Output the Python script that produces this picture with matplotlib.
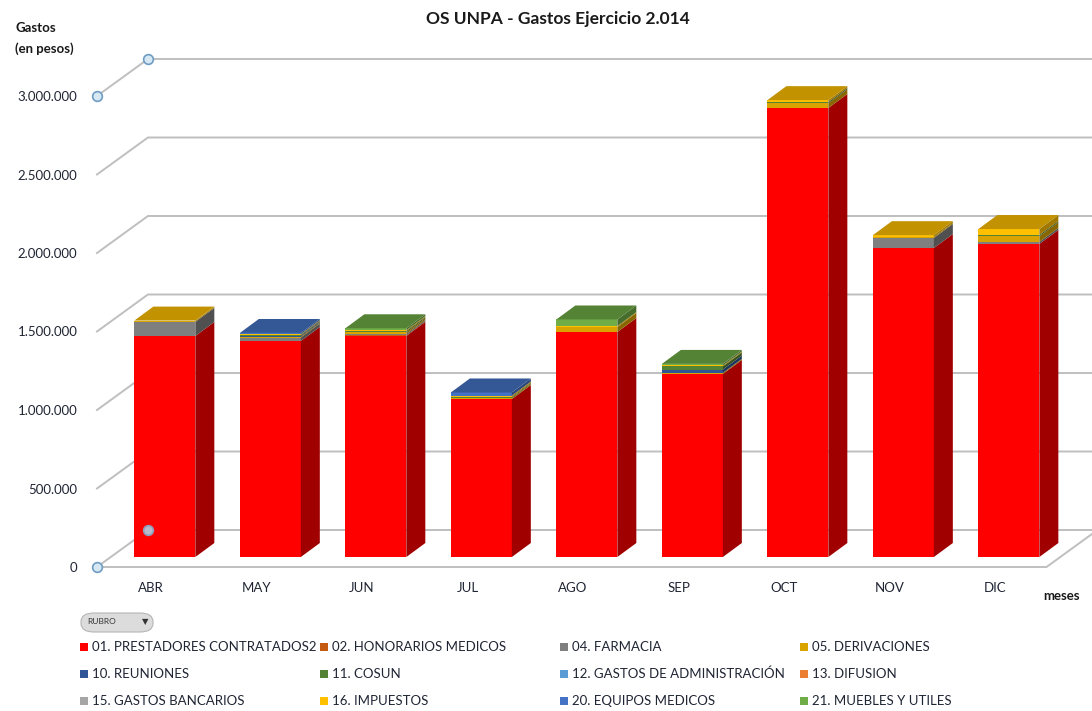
import numpy as np
import matplotlib
matplotlib.use('Agg')
import matplotlib.pyplot as plt
from matplotlib.patches import Polygon, Rectangle, FancyBboxPatch
from matplotlib.colors import to_rgb

plt.rcParams['font.family'] = ['Lato', 'DejaVu Sans']

''' Datos: gastos por mes (en pesos) y rubro '''
meses = ['ABR', 'MAY', 'JUN', 'JUL', 'AGO', 'SEP', 'OCT', 'NOV', 'DIC']

rubros = ['01. PRESTADORES CONTRATADOS2', '02. HONORARIOS MEDICOS', '04. FARMACIA',
          '05. DERIVACIONES', '10. REUNIONES', '11. COSUN',
          '12. GASTOS DE ADMINISTRACIÓN', '13. DIFUSION', '15. GASTOS BANCARIOS',
          '16. IMPUESTOS', '20. EQUIPOS MEDICOS', '21. MUEBLES Y UTILES']
colores = ['#FF0000', '#C55A11', '#7F7F7F', '#D9A300', '#2F5597', '#548235',
           '#5B9BD5', '#ED7D31', '#A5A5A5', '#FFC000', '#4472C4', '#70AD47']

prestadores  = [1408000, 1376000, 1408000, 1006000, 1433000, 1166000, 2860000, 1968000, 1994000]
honorarios   = [0, 0, 5000, 0, 0, 0, 0, 0, 0]
farmacia     = [89000, 22000, 8000, 0, 0, 0, 0, 64000, 13000]
derivaciones = [6000, 6000, 10000, 8000, 32000, 7000, 30000, 6000, 36000]
reuniones    = [0, 6000, 0, 0, 0, 21000, 0, 0, 0]
cosun        = [0, 5000, 8000, 6000, 0, 20000, 8000, 0, 8000]
gastos_adm   = [0, 0, 0, 0, 0, 0, 0, 0, 0]
difusion     = [0, 0, 0, 0, 0, 0, 0, 0, 0]
gastos_banc  = [0, 0, 0, 0, 0, 0, 0, 0, 0]
impuestos    = [3000, 4000, 6000, 8000, 6000, 6000, 12000, 12000, 38000]
equipos      = [0, 8000, 0, 20000, 0, 0, 0, 0, 0]
muebles      = [0, 0, 12000, 0, 42000, 10000, 0, 0, 0]

series = [prestadores, honorarios, farmacia, derivaciones, reuniones, cosun,
          gastos_adm, difusion, gastos_banc, impuestos, equipos, muebles]

yticks = [0, 500000, 1000000, 1500000, 2000000, 2500000, 3000000]

''' parametros del falso 3D (en unidades de datos) '''
DX, DY = 0.483, 235700     # profundidad de paredes
FX, FY = 0.131, 63700      # desplazamiento de la cara frontal de las barras
BX, BY = 0.18, 89000       # profundidad de las barras
W = 0.578
XL, XR = -0.512, 8.488     # borde izq / der del piso
GRID = '#BFBFBF'


def shade(col, f):
    return tuple(c * f for c in to_rgb(col))


W_PX, H_PX = 1092, 711
fig = plt.figure(figsize=(W_PX / 100, H_PX / 100), dpi=100)
ax = fig.add_axes([97 / W_PX, 144 / H_PX, 995 / W_PX, 471 / H_PX])
ax.set_xlim(XL, 8.919)
ax.set_ylim(0, 3000000)
for s in ax.spines.values():
    s.set_visible(False)

# paredes: lineas de grilla
for v in yticks:
    ax.plot([XL, XL + DX, 9.5], [v, v + DY, v + DY], color=GRID, lw=1.4,
            clip_on=False, zorder=1)
ax.plot([XL, XR, XR + DX], [0, 0, DY], color=GRID, lw=1.4, clip_on=False, zorder=1)

# barras apiladas
data = np.array(series, dtype=float)
tot = data.sum(axis=0)
for i in range(len(meses)):
    base = 0.0
    top_col = colores[0]
    xl = i + FX - W / 2
    xr = i + FX + W / 2
    for k in range(len(series)):
        h = data[k, i]
        if h <= 0:
            continue
        ax.bar(i + FX, h, bottom=FY + base, width=W, color=colores[k], lw=0,
               zorder=3, clip_on=False)
        side = [(xr, FY + base), (xr + BX, FY + base + BY),
                (xr + BX, FY + base + h + BY), (xr, FY + base + h)]
        ax.add_patch(Polygon(side, closed=True, facecolor=shade(colores[k], 0.63),
                             lw=0, zorder=3, clip_on=False))
        base += h
        top_col = colores[k]
    T = FY + tot[i]
    tapa = [(xl, T), (xr, T), (xr + BX, T + BY), (xl + BX, T + BY)]
    ax.add_patch(Polygon(tapa, closed=True, facecolor=shade(top_col, 0.76),
                         lw=0, zorder=3, clip_on=False))

# manijas de seleccion
ax.plot([XL, XL, XL + DX], [0, 3000000, 3000000 + DY], 'o', ms=7,
        mfc='#D6E8F3', mec='#6F9CC2', mew=1.2, clip_on=False, zorder=5)
ax.plot([XL + DX], [DY], 'o', ms=7, mfc='#B9B9CC', mec='#8D9FBF', mew=1.2,
        clip_on=False, zorder=5)

ax.set_yticks(yticks)
ax.set_yticklabels([f'{v:,.0f}'.replace(',', '.') for v in yticks])
ax.set_xticks(range(len(meses)))
ax.set_xticklabels(meses)
ax.tick_params(axis='y', length=0, pad=14, labelsize=9.5, labelcolor='#1F2533')
ax.tick_params(axis='x', length=0, pad=11, labelsize=9.5, labelcolor='#1F2533')

fig.text(558 / W_PX, 1 - 19 / H_PX, 'OS UNPA - Gastos Ejercicio 2.014',
         ha='center', va='center', fontsize=12.5, fontweight='bold', color='#1A1A1A')
fig.text(15 / W_PX, 1 - 28 / H_PX, 'Gastos', ha='left', va='center',
         fontsize=9.5, fontweight='bold', color='#1A1A1A')
fig.text(15 / W_PX, 1 - 49 / H_PX, '(en pesos)', ha='left', va='center',
         fontsize=9.5, fontweight='bold', color='#1A1A1A')
fig.text(1043 / W_PX, 1 - 596 / H_PX, 'meses', ha='left', va='center',
         fontsize=9.5, fontweight='bold', color='#1A1A1A')

# boton "RUBRO"
fig.patches.append(FancyBboxPatch((81 / W_PX, 1 - 632 / H_PX), 72 / W_PX, 19 / H_PX,
                                  boxstyle='round,pad=0,rounding_size=0.012',
                                  transform=fig.transFigure, facecolor='#DCDCDC',
                                  edgecolor='#B5B5B5', lw=0.8))
fig.text(87 / W_PX, 1 - 622 / H_PX, 'RUBRO', ha='left', va='center', fontsize=6,
         color='#333333')
fig.text(145 / W_PX, 1 - 622 / H_PX, '▼', ha='center', va='center', fontsize=6,
         color='#333333', family='DejaVu Sans')

# leyenda (4 columnas, por filas)
for k, nombre in enumerate(rubros):
    fila, col = k // 4, k % 4
    x0 = 80 + col * 240
    y0 = 647 + fila * 27
    fig.patches.append(Rectangle((x0 / W_PX, 1 - (y0 + 4) / H_PX), 8 / W_PX, 8 / H_PX,
                                 transform=fig.transFigure, facecolor=colores[k], lw=0))
    fig.text((x0 + 12) / W_PX, 1 - y0 / H_PX, nombre, ha='left', va='center',
             fontsize=9.5, color='#1F2533')

fig.savefig('out.png', dpi=100)
